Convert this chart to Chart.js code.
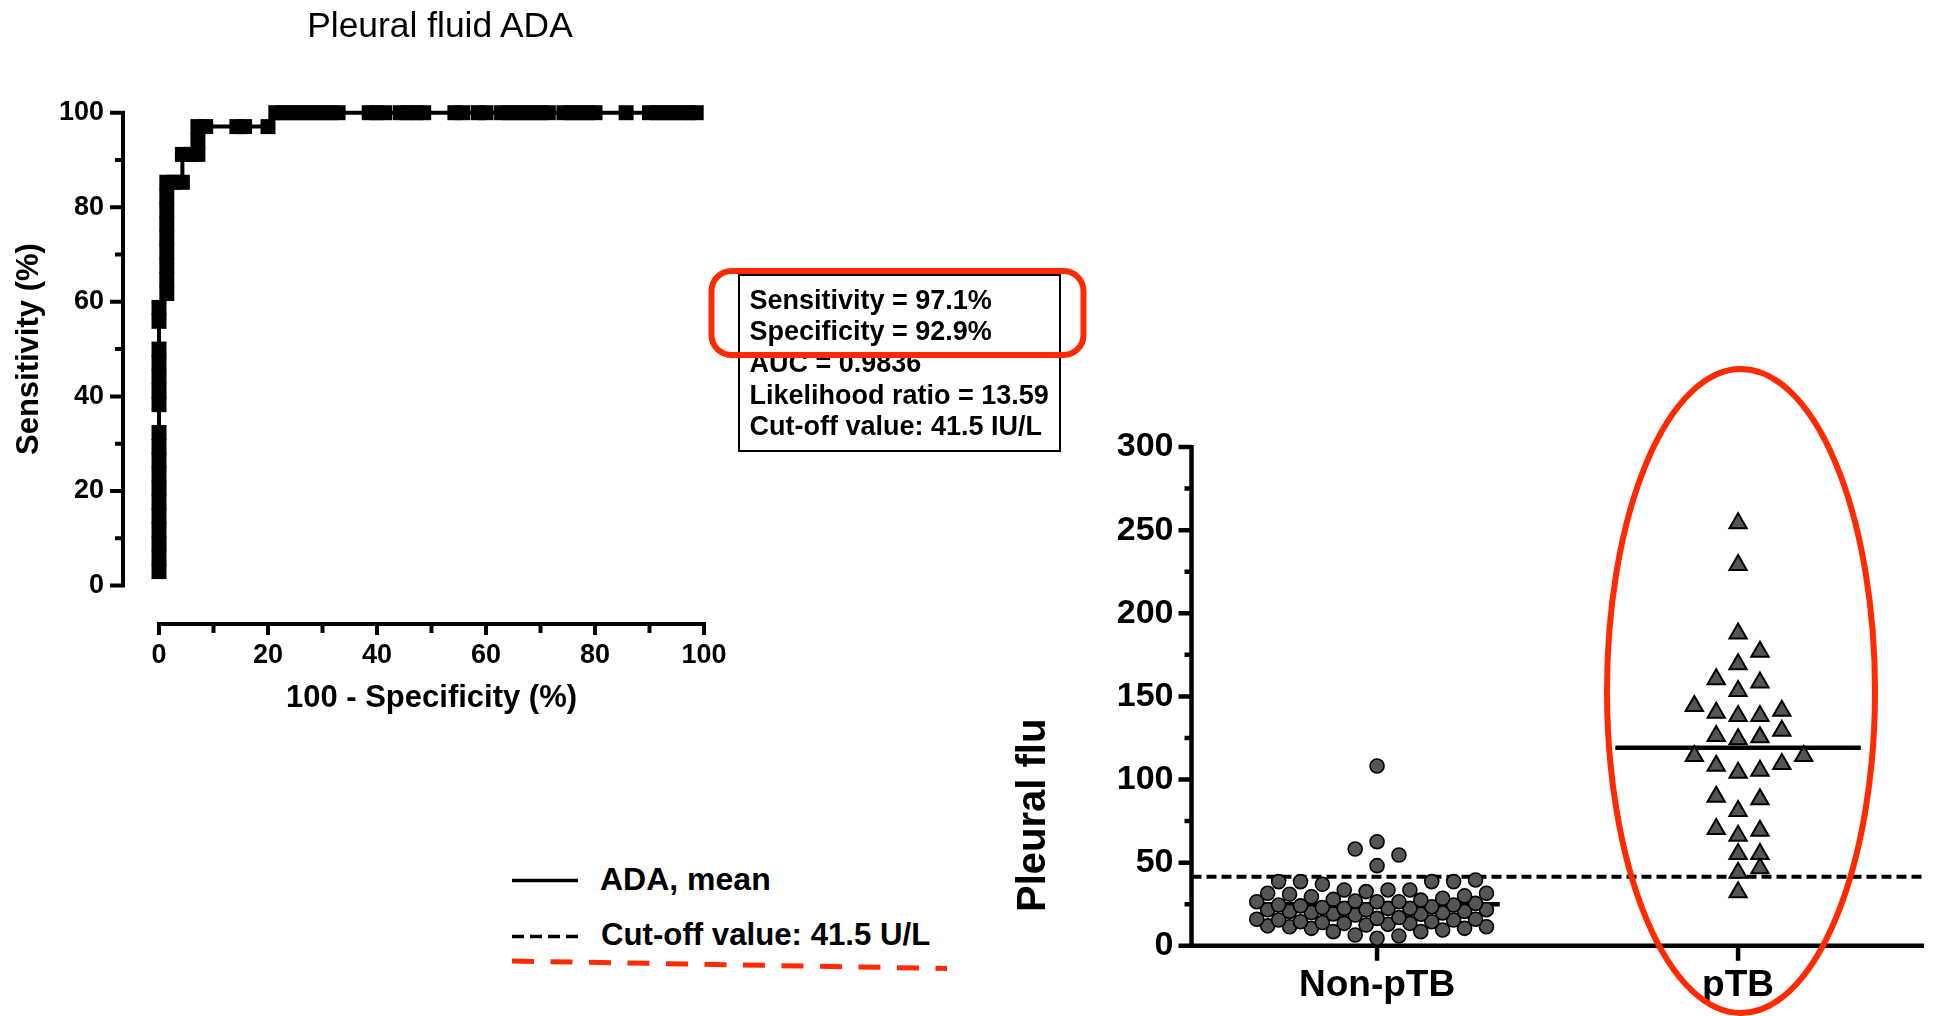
<!DOCTYPE html>
<html>
<head>
<meta charset="utf-8">
<script src="https://cdn.jsdelivr.net/npm/chart.js@4.4.1/dist/chart.umd.min.js"></script>
<style>
  html, body { margin: 0; padding: 0; background: #fff; }
  body { width: 1936px; height: 1016px; position: relative; overflow: hidden;
         font-family: "Liberation Sans", Arial, Helvetica, sans-serif; color: #000; }
  .abs { position: absolute; }
  #rocCanvas { position: absolute; left: 0; top: 0; }
  #dotCanvas { position: absolute; left: 1000px; top: 380px; }
  #title { left: 440px; top: 26px; transform: translate(-50%, -50%); font-size: 35.4px; line-height: 1; white-space: nowrap; }
  #statsBox { left: 738px; top: 274px; width: 323px; height: 178px; box-sizing: border-box;
              border: 2.5px solid #000; padding: 8.5px 0 0 9.5px; font-weight: bold; font-size: 27px; line-height: 31.7px; white-space: nowrap; }
  .legendText { font-weight: bold; font-size: 32px; line-height: 1; white-space: nowrap; transform: translateY(-50%); }
  #yLabelRight { left: 1011px; top: 912px; transform-origin: 0 0; transform: rotate(-90deg);
                 font-weight: bold; font-size: 40px; line-height: 40px; white-space: nowrap; }
  #overlay { position: absolute; left: 0; top: 0; pointer-events: none; }
</style>
</head>
<body>
<canvas id="rocCanvas" width="880" height="760"></canvas>
<canvas id="dotCanvas" width="936" height="636"></canvas>

<div id="title" class="abs">Pleural fluid ADA</div>
<div id="statsBox" class="abs"></div>
<div id="yLabelRight" class="abs">Pleural flu</div>
<div id="legendMean" class="abs legendText" style="left:600px; top:879px;"></div>
<div id="legendCut" class="abs legendText" style="left:601px; top:935px; font-size:31.2px;"></div>

<svg id="overlay" width="1936" height="1016">
  <line x1="512" y1="880.5" x2="578" y2="880.5" stroke="#000" stroke-width="3.5"/>
  <line x1="512" y1="936.5" x2="578" y2="936.5" stroke="#000" stroke-width="3.5" stroke-dasharray="12 6"/>
  <line x1="512" y1="961" x2="947" y2="968.5" stroke="#ff2a00" stroke-width="5" stroke-dasharray="22 16.5"/>
  <rect x="711.5" y="271" width="372" height="84" rx="20" ry="20" fill="none" stroke="#ff2a00" stroke-width="6"/>
  <ellipse cx="1741" cy="691" rx="134" ry="322" fill="none" stroke="#ff2a00" stroke-width="6"/>
</svg>

<script>
// ROC curve for pleural fluid ADA (%)
const rocFpr = [
  0, 0, 0, 0, 0, 0, 0, 0, 0, 0, 0, 0, 0, 0, 0, 0, 0, 0,
  1.43, 1.43, 1.43, 1.43, 1.43, 1.43, 1.43, 1.43, 1.43,
  2.86, 4.29, 4.29, 5.71, 7.14, 7.14, 7.14, 8.57, 14.29, 15.71, 20.00,
  21.43, 22.86, 24.29, 25.71, 27.14, 28.57, 30.00, 31.43, 32.86,
  38.57, 40.00, 41.43, 44.29, 45.71, 47.14, 48.57, 54.29, 55.71, 58.57, 60.00,
  62.86, 64.29, 65.71, 67.14, 68.57, 70.00, 71.43, 74.29, 75.71, 77.14, 78.57, 80.00,
  85.71, 90.00, 91.43, 92.86, 94.29, 95.71, 97.14, 98.57
];
const rocSens = [
  2.94, 5.88, 8.82, 11.76, 14.71, 17.65, 20.59, 23.53, 26.47, 29.41, 32.35,
  38.24, 41.18, 44.12, 47.06, 50.00, 55.88, 58.82,
  61.76, 64.71, 67.65, 70.59, 73.53, 76.47, 79.41, 82.35, 85.29,
  85.29, 85.29, 91.18, 91.18, 91.18, 94.12, 97.06, 97.06, 97.06, 97.06, 97.06,
  100, 100, 100, 100, 100, 100, 100, 100, 100,
  100, 100, 100, 100, 100, 100, 100, 100, 100, 100, 100,
  100, 100, 100, 100, 100, 100, 100, 100, 100, 100, 100, 100,
  100, 100, 100, 100, 100, 100, 100, 100
];
const rocStats = [
  'Sensitivity = 97.1%',
  'Specificity = 92.9%',
  'AUC = 0.9836',
  'Likelihood ratio = 13.59',
  'Cut-off value: 41.5 IU/L'
];

// Dot plot: pleural fluid ADA (U/L) per group
const groupLabels = ['Non-pTB', 'pTB'];
const nonPtbAda = [
  4.5, 5.9, 6.5, 8.5, 8.5, 9.5, 10.5, 10.5, 11.5, 11.5, 12.0, 12.5, 13.0, 13.5,
  13.5, 14.0, 14.5, 14.5, 15.5, 15.5, 16.0, 16.0, 16.5, 17.0, 18.5, 19.0, 19.2,
  19.8, 20.0, 20.7, 20.7, 21.7, 21.7, 21.7, 22.5, 22.5, 22.5, 23.0, 23.5, 24.0,
  24.5, 24.5, 25.5, 26.5, 26.5, 26.5, 26.9, 27.5, 27.9, 28.6, 29.5, 30.0, 31.0,
  31.6, 31.6, 32.6, 33.6, 33.6, 33.6, 37.0, 38.6, 38.6, 38.6, 38.6, 39.6,
  48.2, 54.6, 58.2, 62.6, 108.1
];
const ptbAda = [
  254.1, 229.0, 187.9, 176.9, 169.3, 158.3, 160.3, 153.2, 144.2, 140.2, 138.2,
  138.2, 141.4, 129.4, 125.4, 124.2, 126.2, 114.2, 114.2, 108.3, 104.1, 105.3,
  109.3, 88.1, 89.7, 81.1, 70.2, 66.2, 69.2, 55.2, 55.2, 46.6, 44.0, 32.2
];
const cutoffAda = 41.5;
const legendLabels = ['ADA, mean', 'Cut-off value: 41.5 U/L'];

document.getElementById('statsBox').innerHTML = rocStats.map(s => `<div>${s}</div>`).join('');
document.getElementById('legendMean').textContent = legendLabels[0];
document.getElementById('legendCut').textContent = legendLabels[1];

Chart.defaults.font.family = '"Liberation Sans", Arial, Helvetica, sans-serif';
Chart.defaults.color = '#000';

// Prism style axes: offset from the data area, with minor ticks
const rocAxes = {
  id: 'rocAxes',
  afterDraw(chart) {
    const { ctx, chartArea, scales: { x, y } } = chart;
    const ax = chartArea.left - 36;
    const ay = chartArea.bottom + 38.5;
    ctx.save();
    ctx.strokeStyle = '#000';
    ctx.lineWidth = 4;
    ctx.beginPath();
    ctx.moveTo(ax, y.getPixelForValue(100) - 2);
    ctx.lineTo(ax, y.getPixelForValue(0) + 2);
    ctx.moveTo(x.getPixelForValue(0) - 2, ay);
    ctx.lineTo(x.getPixelForValue(100) + 2, ay);
    for (let v = 0; v <= 100; v += 10) {
      const py = y.getPixelForValue(v);
      ctx.moveTo(ax, py);
      ctx.lineTo(ax - (v % 20 ? 8 : 13), py);
      const px = x.getPixelForValue(v);
      ctx.moveTo(px, ay);
      ctx.lineTo(px, ay + (v % 20 ? 9 : 11));
    }
    ctx.stroke();
    ctx.restore();
  }
};

const dotAxes = {
  id: 'dotAxes',
  beforeDatasetsDraw(chart) {
    const { ctx, chartArea, scales: { x, y } } = chart;
    const y0 = y.getPixelForValue(0);
    ctx.save();
    ctx.strokeStyle = '#000';
    ctx.lineWidth = 4.5;
    ctx.beginPath();
    ctx.moveTo(chartArea.left, y.getPixelForValue(300) - 2);
    ctx.lineTo(chartArea.left, y0);
    ctx.moveTo(chartArea.left - 12, y0);
    ctx.lineTo(chartArea.right, y0);
    for (let v = 0; v <= 300; v += 25) {
      const py = y.getPixelForValue(v);
      ctx.moveTo(chartArea.left, py);
      ctx.lineTo(chartArea.left - (v % 50 ? 7 : 13), py);
    }
    [1, 2].forEach(c => {
      const px = x.getPixelForValue(c);
      ctx.moveTo(px, y0);
      ctx.lineTo(px, y0 + 15);
    });
    ctx.stroke();
    ctx.restore();
  }
};

new Chart(document.getElementById('rocCanvas'), {
  type: 'scatter',
  data: {
    datasets: [{
      data: rocFpr.map((v, i) => ({ x: v, y: rocSens[i] })),
      showLine: true,
      borderColor: '#000',
      borderWidth: 4,
      pointStyle: 'rect',
      pointRadius: 10.6,
      pointBackgroundColor: '#000',
      pointBorderWidth: 0,
      clip: false
    }]
  },
  options: {
    responsive: false,
    animation: false,
    layout: { padding: { left: 0, top: 112.7, right: 176, bottom: 0 } },
    plugins: { legend: { display: false }, tooltip: { enabled: false } },
    scales: {
      x: {
        type: 'linear', min: 0, max: 100,
        ticks: { stepSize: 20, padding: 54, font: { size: 27, weight: 'bold' } },
        grid: { display: false, drawTicks: false },
        border: { display: false },
        title: { display: true, text: '100 - Specificity (%)', font: { size: 31, weight: 'bold' }, padding: { bottom: 43.4 } },
        afterFit: s => { s.height = 174.5; }
      },
      y: {
        min: 0, max: 100,
        ticks: { stepSize: 20, padding: 55, font: { size: 27, weight: 'bold' } },
        grid: { display: false, drawTicks: false },
        border: { display: false },
        title: { display: true, text: 'Sensitivity (%)', font: { size: 31, weight: 'bold' }, padding: { top: 10.4 } },
        afterFit: s => { s.width = 159; }
      }
    }
  },
  plugins: [rocAxes]
});

// Prism-like column scatter: rows of close values spread out from the centre;
// a row sitting right on top of the previous one is set half a slot over
function swarm(values, center) {
  const rowSpan = 10.5, maxPerRow = 11, slot = 0.0606, touching = 9;
  const sorted = values.slice().sort((a, b) => a - b);
  const pts = [];
  let i = 0, prevBase = -Infinity, prevShifted = true;
  while (i < sorted.length) {
    const row = [sorted[i]];
    let j = i + 1;
    while (j < sorted.length && sorted[j] < sorted[i] + rowSpan && row.length < maxPerRow) {
      row.push(sorted[j]);
      j++;
    }
    const shifted = sorted[i] - prevBase < touching && !prevShifted;
    row.forEach((v, k) => {
      let off = k === 0 ? 0 : (k % 2 ? (k + 1) / 2 : -k / 2);
      if (shifted) off -= 0.5;
      pts.push({ x: center + off * slot, y: v });
    });
    prevBase = sorted[i];
    prevShifted = shifted;
    i = j;
  }
  return pts;
}

const mean = arr => arr.reduce((a, b) => a + b, 0) / arr.length;
const meanLine = (arr, c) => [{ x: c - 0.34, y: mean(arr) }, { x: c + 0.34, y: mean(arr) }];

const xMin = 0.486, xMax = 2.515;

new Chart(document.getElementById('dotCanvas'), {
  type: 'scatter',
  data: {
    datasets: [
      {
        data: swarm(nonPtbAda, 1),
        pointStyle: 'circle', pointRadius: 7, pointBorderWidth: 1.6,
        pointBackgroundColor: '#555555', pointBorderColor: '#000', order: 0
      },
      {
        data: swarm(ptbAda, 2),
        pointStyle: 'triangle', pointRadius: 10, pointBorderWidth: 2,
        pointBackgroundColor: '#555555', pointBorderColor: '#000', order: 0
      },
      {
        data: meanLine(nonPtbAda, 1), showLine: true, pointRadius: 0,
        borderColor: '#000', borderWidth: 4.5, order: 1
      },
      {
        data: meanLine(ptbAda, 2), showLine: true, pointRadius: 0,
        borderColor: '#000', borderWidth: 4.5, order: 1
      },
      {
        data: [{ x: xMin, y: cutoffAda }, { x: xMax, y: cutoffAda }], showLine: true, pointRadius: 0,
        borderColor: '#000', borderWidth: 4, borderDash: [10, 5], order: 1
      }
    ]
  },
  options: {
    responsive: false,
    animation: false,
    layout: { padding: { left: 0, top: 67, right: 8, bottom: 0 } },
    plugins: { legend: { display: false }, tooltip: { enabled: false } },
    scales: {
      x: {
        type: 'linear', min: xMin, max: xMax,
        afterBuildTicks: s => { s.ticks = [{ value: 1 }, { value: 2 }]; },
        ticks: { padding: 18, font: { size: 37, weight: 'bold' }, callback: v => groupLabels[Math.round(v) - 1] },
        grid: { display: false, drawTicks: false },
        border: { display: false },
        afterFit: s => { s.height = 70.2; }
      },
      y: {
        min: 0, max: 300,
        ticks: { stepSize: 50, padding: 18, font: { size: 34, weight: 'bold' } },
        grid: { display: false, drawTicks: false },
        border: { display: false },
        afterFit: s => { s.width = 191.5; }
      }
    }
  },
  plugins: [dotAxes]
});
</script>
</body>
</html>
